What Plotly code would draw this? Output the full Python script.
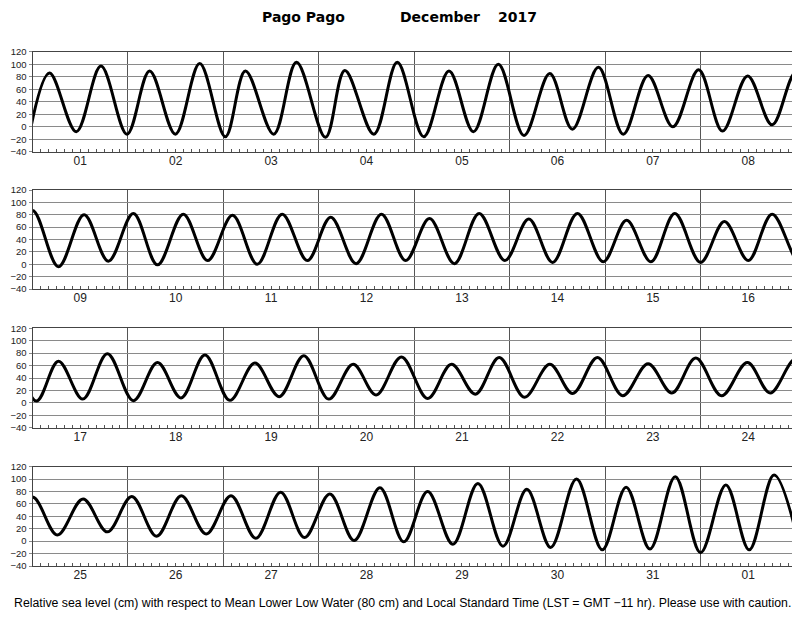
import plotly.graph_objects as go

# ---- data: high / low water times (LST) and heights (cm, re MLLW) ----
tide_times = [
    "2017-11-30 23:10", "2017-12-01 04:16", "2017-12-01 11:00", "2017-12-01 17:13", "2017-12-01 23:46",
    "2017-12-02 05:27", "2017-12-02 11:56", "2017-12-02 18:03", "2017-12-03 00:30",
    "2017-12-03 05:33", "2017-12-03 12:40", "2017-12-03 18:23", "2017-12-04 01:41",
    "2017-12-04 06:33", "2017-12-04 13:51", "2017-12-04 19:44", "2017-12-05 02:24",
    "2017-12-05 08:44", "2017-12-05 14:53", "2017-12-05 21:09", "2017-12-06 03:36",
    "2017-12-06 10:05", "2017-12-06 15:46", "2017-12-06 22:19", "2017-12-07 04:34",
    "2017-12-07 10:48", "2017-12-07 17:02", "2017-12-07 23:31", "2017-12-08 05:31",
    "2017-12-08 11:50", "2017-12-08 18:00", "2017-12-09 00:00",
    "2017-12-09 06:32", "2017-12-09 12:58", "2017-12-09 19:05", "2017-12-10 01:22",
    "2017-12-10 07:26", "2017-12-10 13:55", "2017-12-10 20:02", "2017-12-11 02:18",
    "2017-12-11 08:31", "2017-12-11 14:47", "2017-12-11 21:07", "2017-12-12 03:00",
    "2017-12-12 09:22", "2017-12-12 15:45", "2017-12-12 21:50", "2017-12-13 03:50",
    "2017-12-13 10:05", "2017-12-13 16:19", "2017-12-13 22:48", "2017-12-14 04:48",
    "2017-12-14 10:48", "2017-12-14 17:02", "2017-12-14 23:31", "2017-12-15 05:24",
    "2017-12-15 11:31", "2017-12-15 17:31", "2017-12-16 00:00", "2017-12-16 06:00",
    "2017-12-16 12:00", "2017-12-16 18:00", "2017-12-17 00:58",
    "2017-12-17 06:32", "2017-12-17 12:39", "2017-12-17 18:50", "2017-12-18 01:22",
    "2017-12-18 07:26", "2017-12-18 13:21", "2017-12-18 19:22", "2017-12-19 01:38",
    "2017-12-19 07:55", "2017-12-19 14:02", "2017-12-19 20:14", "2017-12-20 02:30",
    "2017-12-20 08:38", "2017-12-20 14:24", "2017-12-20 20:46", "2017-12-21 03:22",
    "2017-12-21 09:22", "2017-12-21 15:22", "2017-12-21 21:22", "2017-12-22 03:43",
    "2017-12-22 10:05", "2017-12-22 15:50", "2017-12-22 22:05", "2017-12-23 04:26",
    "2017-12-23 10:48", "2017-12-23 16:48", "2017-12-23 22:48", "2017-12-24 05:17",
    "2017-12-24 11:46", "2017-12-24 17:31", "2017-12-25 00:00",
    "2017-12-25 06:14", "2017-12-25 12:43", "2017-12-25 18:50", "2017-12-26 00:58",
    "2017-12-26 07:12", "2017-12-26 13:26", "2017-12-26 19:41", "2017-12-27 01:55",
    "2017-12-27 08:10", "2017-12-27 14:24", "2017-12-27 20:24", "2017-12-28 02:46",
    "2017-12-28 08:53", "2017-12-28 15:22", "2017-12-28 21:22", "2017-12-29 03:22",
    "2017-12-29 09:43", "2017-12-29 16:00", "2017-12-29 22:19", "2017-12-30 04:19",
    "2017-12-30 10:19", "2017-12-30 16:48", "2017-12-30 23:17", "2017-12-31 05:17",
    "2017-12-31 11:17", "2017-12-31 17:38", "2018-01-01 00:00", "2018-01-01 06:22",
    "2018-01-01 12:14", "2018-01-01 18:29", "2018-01-02 01:12",
]
tide_heights = [
    -14, 86, -8, 97, -12,
    89, -12, 101, -16,
    89, -12, 103, -17,
    90, -12, 103, -16,
    89, -8, 100, -14,
    85, -4, 95, -12,
    82, 0, 91, -7,
    81, 3, 87,
    -4, 80, 5, 82,
    -1, 81, 6, 79,
    0, 81, 6, 76,
    1, 81, 6, 74,
    1, 82, 6, 73,
    3, 82, 4, 71,
    4, 82, 3, 69,
    6, 81, 3,
    67, 6, 79, 3.5,
    65, 8, 77, 4,
    64, 10, 76, 6,
    62, 12.6, 74, 7,
    62, 14, 73, 9,
    62, 15, 73, 11.5,
    63, 16, 72, 11.5,
    65, 16, 71,
    10, 68, 15, 72,
    8, 73, 11.5, 73,
    4.6, 79, 6, 76,
    1, 86, -1, 80,
    -5, 93, -8, 83.5,
    -10, 100, -14, 87,
    -12.6, 104, -18.5, 90.5,
    -14, 106.6, -18,
]

panel_ranges = [
    ("2017-12-01", "2017-12-09"),
    ("2017-12-09", "2017-12-17"),
    ("2017-12-17", "2017-12-25"),
    ("2017-12-25", "2018-01-02"),
]
y_range = [-40, 120]
title_parts = ["Pago Pago", "December", "2017"]
footer_text = ("Relative sea level (cm) with respect to Mean Lower Low Water (80 cm) and "
               "Local Standard Time (LST = GMT \u221211 hr). Please use with caution.")

# ---- layout geometry (page pixels; the page body has an 8 px margin) ----
PAGE_OFF = 8
W, H = 800 - PAGE_OFF, 618 - PAGE_OFF
x_left, x_right = 32.5 - PAGE_OFF, 796 - PAGE_OFF
panel_px = [(51.7, 151.7), (190, 289), (328.3, 427.7), (466.7, 566)]
panel_px = [(a - PAGE_OFF, b - PAGE_OFF) for a, b in panel_px]

FONT = "Liberation Sans, Arial, Helvetica, sans-serif"
fig = go.Figure()

layout = dict(
    width=W, height=H,
    margin=dict(l=0, r=0, t=0, b=0),
    paper_bgcolor="white", plot_bgcolor="white",
    showlegend=False,
    font=dict(family=FONT, color="#222"),
)

for i, ((x0, x1), (ptop, pbot)) in enumerate(zip(panel_ranges, panel_px)):
    n = "" if i == 0 else str(i + 1)
    fig.add_trace(go.Scatter(
        x=tide_times, y=tide_heights, mode="lines",
        line=dict(color="black", width=3, shape="spline", smoothing=1.0),
        xaxis="x" + n, yaxis="y" + n, hoverinfo="skip",
    ))
    layout["xaxis" + n] = dict(
        type="date", range=[x0, x1], anchor="y" + n,
        domain=[x_left / W, x_right / W],
        tick0="2017-12-01", dtick=86400000, tickformat="%d", ticklabelmode="period",
        showgrid=True, gridcolor="#555", gridwidth=1,
        ticks="", showline=True, mirror=True, linecolor="#444", linewidth=1,
        minor=dict(dtick=7200000, tick0="2017-12-01", ticks="inside", ticklen=3,
                   tickcolor="#555", tickwidth=1, showgrid=False),
        tickfont=dict(size=12, color="#222", family=FONT),
        ticklabelstandoff=-2,
        zeroline=False, automargin=False, fixedrange=True,
    )
    layout["yaxis" + n] = dict(
        range=y_range, anchor="x" + n,
        domain=[1 - pbot / H, 1 - ptop / H],
        tick0=0, dtick=20, showgrid=True, gridcolor="#8a8a8a", gridwidth=1,
        ticks="outside", ticklen=3, tickcolor="#8a8a8a",
        showline=True, mirror=True, linecolor="#444", linewidth=1,
        tickfont=dict(size=9.5, color="#222", family=FONT),
        zeroline=False, automargin=False, fixedrange=True,
    )

annotations = []
title_x = [261, 399, 497]
for txt, xp in zip(title_parts, title_x):
    annotations.append(dict(
        text="<b>%s</b>" % txt, x=(xp - PAGE_OFF) / W, y=1.0,
        xref="paper", yref="paper",
        xanchor="left", yanchor="top", showarrow=False, borderpad=0,
        font=dict(family="DejaVu Sans, sans-serif", size=14, color="black"),
    ))
annotations.append(dict(
    text=footer_text, x=(402 - PAGE_OFF) / W, y=1 - (603 - PAGE_OFF) / H,
    xref="paper", yref="paper",
    xanchor="center", yanchor="middle", showarrow=False,
    font=dict(family=FONT, size=12.3, color="black"),
))
layout["annotations"] = annotations

fig.update_layout(**layout)
fig.write_html("out.html")
